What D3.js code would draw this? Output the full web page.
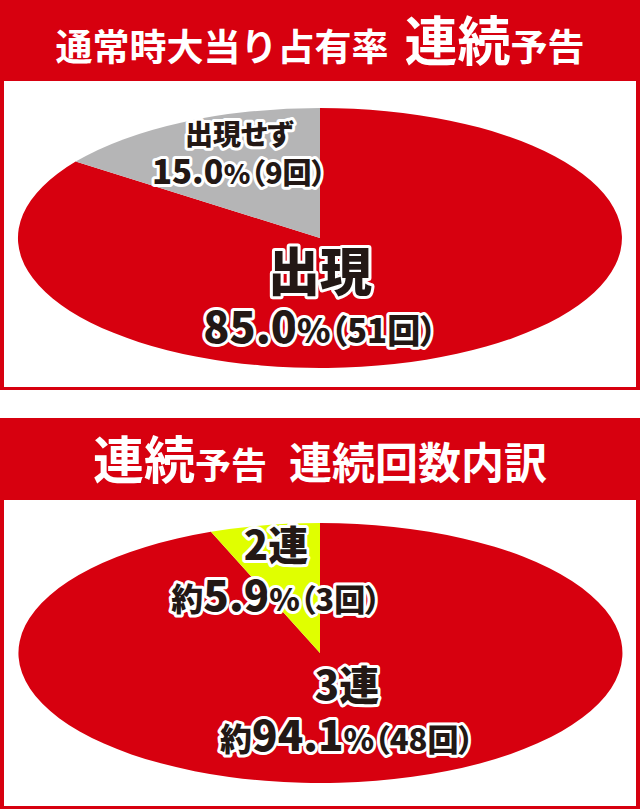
<!DOCTYPE html>
<html>
<head>
<meta charset="utf-8">
<script src="https://cdn.jsdelivr.net/npm/d3@7"></script>
<style>
  body { margin: 0; background: #fff; }
  svg { display: block; }
  text { font-family: "Noto Sans CJK JP", "Noto Sans", sans-serif; }
  .lbl { font-feature-settings: "palt"; }
</style>
</head>
<body>
<svg id="chart" width="640" height="809"></svg>
<script>
// Data: share of jackpots with a 連続 notice
const appearLabels = ["出現", "出現せず"];
const appearCounts = [51, 9];
const appearRates = ["85.0", "15.0"];

// Data: breakdown of the chain count
const chainLabels = ["3連", "2連"];
const chainCounts = [48, 3];
const chainRates = ["94.1", "5.9"];
const chainPrefix = "約";

// Colours
const RED = "#d7000f";
const INK = "#231815";
const appearColors = [RED, "#b5b5b6"];
const chainColors = [RED, "#e0ff00"];

// Layout
const W = 640;
const panels = [
    {
        top: 0, bottom: 390, headerH: 81,
        title: [
            { t: "通常時大当り占有率", s: 37 },
            { t: "連続", s: 53, dx: 16 },
            { t: "予告", s: 37 }
        ],
        titleY: 61,
        ellipse: { cx: 320, cy: 238, rx: 302, ry: 130 },
        labels: appearLabels, counts: appearCounts, rates: appearRates,
        colors: appearColors, prefix: "",
        // label blocks: [centre x, name baseline, rate baseline]
        spots: [[320, 291, 343], [239, 145, 184]],
        sizes: [
            { name: 52, pre: 0, num: 43, pct: 34, par: 33 },
            { name: 28, pre: 0, num: 33, pct: 27, par: 29 }
        ]
    },
    {
        top: 418, bottom: 809, headerH: 82,
        title: [
            { t: "連続", s: 51 },
            { t: "予告", s: 36 },
            { t: "連続回数内訳", s: 43, dx: 22 }
        ],
        titleY: 479,
        ellipse: { cx: 320, cy: 653, rx: 302, ry: 130 },
        labels: chainLabels, counts: chainCounts, rates: chainRates,
        colors: chainColors, prefix: chainPrefix,
        spots: [[347, 700, 751], [276, 560, 611]],
        sizes: [
            { name: 40, pre: 32, num: 42, pct: 31, par: 31 },
            { name: 40, pre: 32, num: 42, pct: 31, par: 31 }
        ]
    }
];

const svg = d3.select("#chart");
svg.append("rect").attr("width", W).attr("height", 809).attr("fill", "#fff");

const pie = d3.pie().sort(null).value(d => d);
const arc = d3.arc().innerRadius(0).outerRadius(1);

/**
 * Draws one framed panel with its header and elliptical pie
 */
function drawPanel(p) {
    const g = svg.append("g");

    // frame + header
    g.append("rect")
        .attr("x", 0).attr("y", p.top)
        .attr("width", W).attr("height", p.bottom - p.top)
        .attr("fill", RED);
    g.append("rect")
        .attr("x", 4).attr("y", p.top + p.headerH)
        .attr("width", W - 8).attr("height", p.bottom - p.top - p.headerH - 3)
        .attr("fill", "#fff");

    const title = g.append("text")
        .attr("x", W / 2).attr("y", p.titleY)
        .attr("text-anchor", "middle")
        .attr("fill", "#fff")
        .attr("font-weight", 700);
    p.title.forEach(part => {
        title.append("tspan")
            .attr("font-size", part.s)
            .attr("dx", part.dx || 0)
            .text(part.t);
    });

    // elliptical pie: unit pie stretched to the ellipse
    const e = p.ellipse;
    g.append("g")
        .attr("transform", `translate(${e.cx},${e.cy}) scale(${e.rx},${e.ry})`)
        .selectAll("path")
        .data(pie(p.counts))
        .join("path")
        .attr("d", arc)
        .attr("fill", (d, i) => p.colors[i]);

    // labels
    p.labels.forEach((name, i) => {
        const [x, y1, y2] = p.spots[i];
        const sz = p.sizes[i];

        g.append("text")
            .attr("class", "lbl")
            .attr("x", x).attr("y", y1)
            .attr("text-anchor", "middle")
            .attr("font-size", sz.name)
            .attr("font-weight", 900)
            .attr("fill", INK)
            .attr("stroke", "#fff")
            .attr("stroke-width", 6)
            .attr("stroke-linejoin", "round")
            .attr("paint-order", "stroke")
            .text(name);

        const t = g.append("text")
            .attr("class", "lbl")
            .attr("x", x).attr("y", y2)
            .attr("text-anchor", "middle")
            .attr("font-weight", 900)
            .attr("fill", INK)
            .attr("stroke", "#fff")
            .attr("stroke-width", 6)
            .attr("stroke-linejoin", "round")
            .attr("paint-order", "stroke");
        if (p.prefix) t.append("tspan").attr("font-size", sz.pre).text(p.prefix);
        t.append("tspan").attr("font-size", sz.num).text(p.rates[i]);
        t.append("tspan").attr("font-size", sz.pct).text("%");
        t.append("tspan").attr("font-size", sz.par).text(`（${p.counts[i]}回）`);
    });
}

panels.forEach(drawPanel);
</script>
</body>
</html>
